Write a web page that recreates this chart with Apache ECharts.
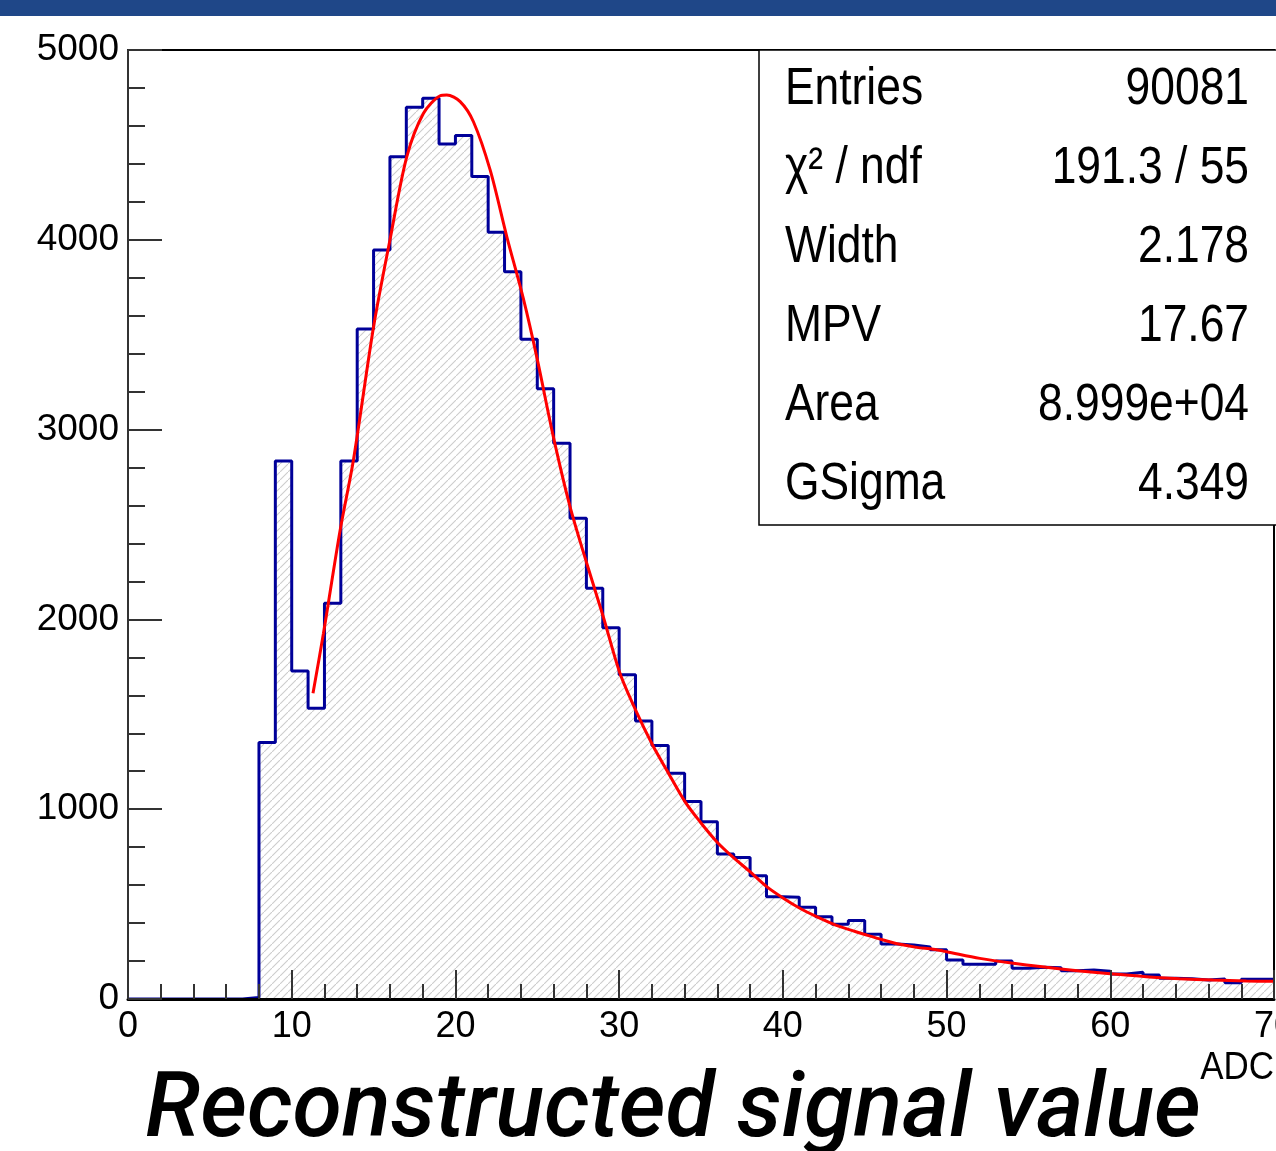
<!DOCTYPE html>
<html>
<head>
<meta charset="utf-8">
<title>Reconstructed signal value</title>
<script src="https://cdn.jsdelivr.net/npm/echarts@6/dist/echarts.min.js"></script>
<style>
  html, body { margin: 0; padding: 0; background: #fff; }
  #chart { width: 1276px; height: 1151px; }
</style>
</head>
<body>
<div id="chart"></div>
<script>
// histogram: left edge of each 1 ADC wide bin, and its content
const binEdges = [
  0, 1, 2, 3, 4, 5, 6, 7, 8, 9,
  10, 11, 12, 13, 14, 15, 16, 17, 18, 19,
  20, 21, 22, 23, 24, 25, 26, 27, 28, 29,
  30, 31, 32, 33, 34, 35, 36, 37, 38, 39,
  40, 41, 42, 43, 44, 45, 46, 47, 48, 49,
  50, 51, 52, 53, 54, 55, 56, 57, 58, 59,
  60, 61, 62, 63, 64, 65, 66, 67, 68, 69
];
const binCounts = [
  0, 0, 0, 0, 0, 0, 0, 8, 1352, 2835,
  1728, 1532, 2085, 2835, 3530, 3946, 4438, 4698, 4746, 4505,
  4549, 4333, 4040, 3832, 3476, 3215, 2928, 2533, 2164, 1956,
  1709, 1465, 1336, 1189, 1040, 934, 764, 746, 650, 539,
  536, 483, 434, 394, 413, 341, 290, 284, 274, 260,
  205, 183, 183, 200, 162, 167, 165, 149, 153, 146,
  132, 141, 126, 109, 107, 100, 105, 86, 104, 104
];
const xMax = 70;

// fitted curve, points
const fitX = [
  11.3, 11.94, 12.96, 13.77, 15.0, 16.0, 17.03, 18.05, 19.07, 19.47,
  20.29, 21.1, 22.12, 23.14, 24.15, 25.0, 25.98, 27.0, 28.02, 29.03,
  30.05, 31.07, 32.09, 32.9, 34.02, 34.94, 35.96, 36.97, 37.99, 39.01,
  40.03, 41.04, 42.06, 43.08, 44.1, 45.11, 46.13, 47.15, 48.17, 49.18,
  50.0, 52.03, 54.07, 56.1, 58.14, 60.17, 62.2, 64.24, 66.27, 68.31, 70
];
const fitY = [
  1611, 1927, 2471, 2840, 3542, 3999, 4438, 4667, 4759, 4763,
  4728, 4622, 4368, 4016, 3690, 3370, 2963, 2594, 2296, 2014,
  1716, 1510, 1330, 1207, 1040, 934, 829, 746, 671, 592,
  531, 478, 434, 395, 364, 337, 311, 288, 272, 262,
  249, 214, 188, 167, 148, 132, 117, 107, 100, 95, 93
];

// stats box
const statNames = ['Entries', 'χ² / ndf', 'Width', 'MPV', 'Area', 'GSigma'];
const statValues = ['90081', '191.3 / 55', '2.178', '17.67', '8.999e+04', '4.349'];

const titleText = 'Reconstructed signal value';
const xUnit = 'ADC';

// diagonal hatch like ROOT fill style
function hatchPattern() {
  const c = document.createElement('canvas');
  c.width = 8;
  c.height = 8;
  const ctx = c.getContext('2d');
  ctx.strokeStyle = '#cccccc';
  ctx.lineWidth = 1.1;
  ctx.beginPath();
  ctx.moveTo(-1, 9);
  ctx.lineTo(9, -1);
  ctx.stroke();
  return c;
}

const histData = binEdges.map((x, i) => [x, binCounts[i]]);
histData.push([xMax, binCounts[binCounts.length - 1]]);
const fitData = fitX.map((x, i) => [x, fitY[i]]);

const font = '"Liberation Sans", Arial, sans-serif';
const rowY = [90, 169, 248, 327, 406, 485];

const statGraphics = [];
statNames.forEach((name, i) => {
  statGraphics.push({
    type: 'text', z: 20, x: 785, y: rowY[i], scaleX: 0.87,
    style: { text: name, font: '51px ' + font, fill: '#000', verticalAlign: 'middle' }
  });
  statGraphics.push({
    type: 'text', z: 20, x: 1249, y: rowY[i], scaleX: 0.87,
    style: { text: statValues[i], font: '51px ' + font, fill: '#000', align: 'right', verticalAlign: 'middle' }
  });
});

const chart = echarts.init(document.getElementById('chart'), null, { renderer: 'canvas' });

const option = {
  animation: false,
  backgroundColor: '#fff',
  grid: {
    left: 128, right: 2, top: 50, bottom: 152,
    outerBoundsMode: 'none',
    containLabel: false,
    show: true, borderColor: '#000', borderWidth: 2,
    backgroundColor: 'transparent'
  },
  xAxis: {
    type: 'value', min: 0, max: xMax, interval: 10, z: 5,
    axisLine: { show: true, onZero: false, lineStyle: { color: '#000', width: 3 } },
    axisTick: { show: true, inside: true, length: 29, lineStyle: { color: '#333', width: 2 } },
    minorTick: { show: true, splitNumber: 5, length: 15, lineStyle: { color: '#333', width: 2 } },
    splitLine: { show: false },
    axisLabel: { color: '#000', fontFamily: font, fontSize: 36, margin: 10, showMaxLabel: true }
  },
  yAxis: {
    type: 'value', min: 0, max: 5000, interval: 1000, z: 5,
    axisLine: { show: true, lineStyle: { color: '#333', width: 2 } },
    axisTick: { show: true, inside: true, length: 34, lineStyle: { color: '#333', width: 2 } },
    minorTick: { show: true, splitNumber: 5, length: 17, lineStyle: { color: '#333', width: 2 } },
    splitLine: { show: false },
    axisLabel: {
      color: '#000', fontFamily: font, fontSize: 37, margin: 9,
      formatter: (v) => String(v)
    }
  },
  series: [
    {
      name: 'hist',
      type: 'line',
      step: 'end',
      data: histData,
      showSymbol: false,
      lineStyle: { color: '#000099', width: 3 },
      areaStyle: { color: { image: hatchPattern(), repeat: 'repeat' }, opacity: 1 },
      z: 3
    },
    {
      name: 'fit',
      type: 'line',
      data: fitData,
      smooth: 0.3,
      showSymbol: false,
      lineStyle: { color: '#ff0000', width: 3 },
      z: 4
    }
  ],
  graphic: [
    // header band
    { type: 'rect', shape: { x: 0, y: 0, width: 1276, height: 16 }, style: { fill: '#1f4788' }, z: 10 },
    // stats box
    {
      type: 'rect', z: 15,
      shape: { x: 759, y: 50, width: 520, height: 475 },
      style: { fill: '#fff', stroke: '#000', lineWidth: 1.5 }
    },
    ...statGraphics,
    {
      type: 'text', z: 20, x: 1274, y: 1069, scaleX: 0.92,
      style: { text: xUnit, font: '38px ' + font, fill: '#000', align: 'right', verticalAlign: 'middle' }
    },
    {
      type: 'text', z: 20, x: 673, y: 1113,
      style: {
        text: titleText, font: 'italic 500 90px Roboto, sans-serif',
        fill: '#000', align: 'center', verticalAlign: 'middle'
      }
    }
  ]
};

chart.setOption(option);
</script>
</body>
</html>
